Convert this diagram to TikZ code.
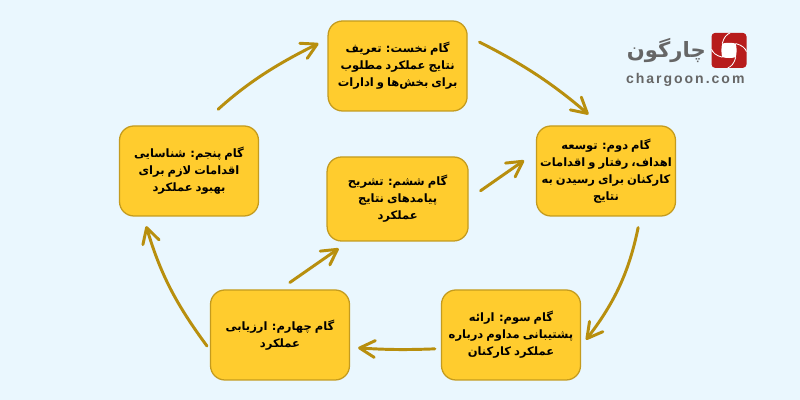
\documentclass[tikz,border=0pt]{standalone}
\usepackage{fontspec}
\newfontfamily\arabicfont[Script=Arabic,WordSpace=0.75]{DejaVu Sans}
\setsansfont{Liberation Sans}
\TeXXeTstate=1
\usetikzlibrary{arrows.meta,positioning}
\definecolor{bgblue}{HTML}{EAF7FE}
\definecolor{boxfill}{HTML}{FFCC2E}
\definecolor{boxline}{HTML}{C49B1E}
\definecolor{flowline}{HTML}{B88F0E}
\definecolor{logored}{HTML}{B71C1C}
\definecolor{logogray}{HTML}{666666}
\newcommand{\fa}[1]{\beginR #1\endR}
\tikzstyle{stepbox} = [draw=boxline,fill=boxfill,line width=0.9pt,rounded corners=0.36cm,minimum width=3.475cm,minimum height=2.25cm,align=center,inner sep=0pt,font=\arabicfont\bfseries\fontsize{8.2pt}{12pt}\selectfont]
\tikzstyle{arrow} = [flowline,line width=2.1pt,line cap=round,-{Straight Barb[length=3.8mm,width=4.2mm,round]}]

\begin{document}
\begin{tikzpicture}
\fill[bgblue] (0,0) rectangle (20,10);
\useasboundingbox (0,0) rectangle (20,10);
% steps
\node[stepbox] (step1) at (9.94,8.35) {\fa{گام نخست: تعریف}\\\fa{نتایج عملکرد مطلوب}\\\fa{برای بخش‌ها و ادارات}};
\node[stepbox] (step2) at (15.15,5.725) {\fa{گام دوم: توسعه}\\\fa{اهداف، رفتار و اقدامات}\\\fa{کارکنان برای رسیدن به}\\\fa{نتایج}};
\node[stepbox] (step3) at (12.775,1.625) {\fa{گام سوم: ارائه}\\\fa{پشتیبانی مداوم درباره}\\\fa{عملکرد کارکنان}};
\node[stepbox] (step4) at (7,1.625) {\fa{گام چهارم: ارزیابی}\\\fa{عملکرد}};
\node[stepbox] (step5) at (4.725,5.725) {\fa{گام پنجم: شناسایی}\\\fa{اقدامات لازم برای}\\\fa{بهبود عملکرد}};
\node[stepbox,minimum width=3.525cm,minimum height=2.1cm] (step6) at (9.94,5.025) {\fa{گام ششم: تشریح}\\\fa{پیامدهای نتایج}\\\fa{عملکرد}};
% outer ring
\draw[arrow,shorten <=0.33cm,shorten >=0.42cm] (step1.23) to[bend left=7] (step2.96);
\draw[arrow,shorten <=0.28cm,shorten >=0.2cm] (step2.-53) to[bend left=13] (step3.-9);
\draw[arrow,shorten <=0.15cm,shorten >=0.2cm] (step3.191.5) to[bend left=3] (step4.-10);
\draw[arrow,shorten <=0.12cm,shorten >=0.25cm] (step4.192) to[bend left=10] (step5.225);
\draw[arrow,shorten <=0.6cm,shorten >=0.25cm] (step5.76) to[bend left=8] (step1.159.5);
% inner pair
\draw[arrow,shorten <=0.3cm,shorten >=0.3cm] (step4.90) -- (step6.221);
\draw[arrow,shorten <=0.36cm,shorten >=0.36cm] (step6.0) -- (step2.165.4);
% logo
\node[fill=logored,rounded corners=0.09cm,minimum size=0.875cm,inner sep=0pt] (logobox) at (18.225,8.74) {};
\begin{scope}[shift={(logobox.center)}]
\foreach \a in {0,-90,-180,-270}
  \draw[white,line width=0.6pt,rotate=\a] (-0.17,0.17) .. controls (-0.13,0.33) and (-0.05,0.41) .. (0.03,0.437);
\fill[white] (-0.17,0.17) to[bend left=12] (0.17,0.17) to[bend left=12] (0.17,-0.17) to[bend left=12] (-0.17,-0.17) to[bend left=12] cycle;
\end{scope}
\node[anchor=east,text=logogray,inner sep=0pt,font=\arabicfont\bfseries\fontsize{15pt}{15pt}\selectfont] (logofa) at (17.65,8.75) {\fa{چارگون}};
\node[anchor=east,text=logogray,inner sep=0pt,font=\sffamily\bfseries\fontsize{10pt}{10pt}\selectfont] (logourl) at (18.62,8.0) {\addfontfeature{LetterSpace=14}chargoon.com};
\end{tikzpicture}
\end{document}
